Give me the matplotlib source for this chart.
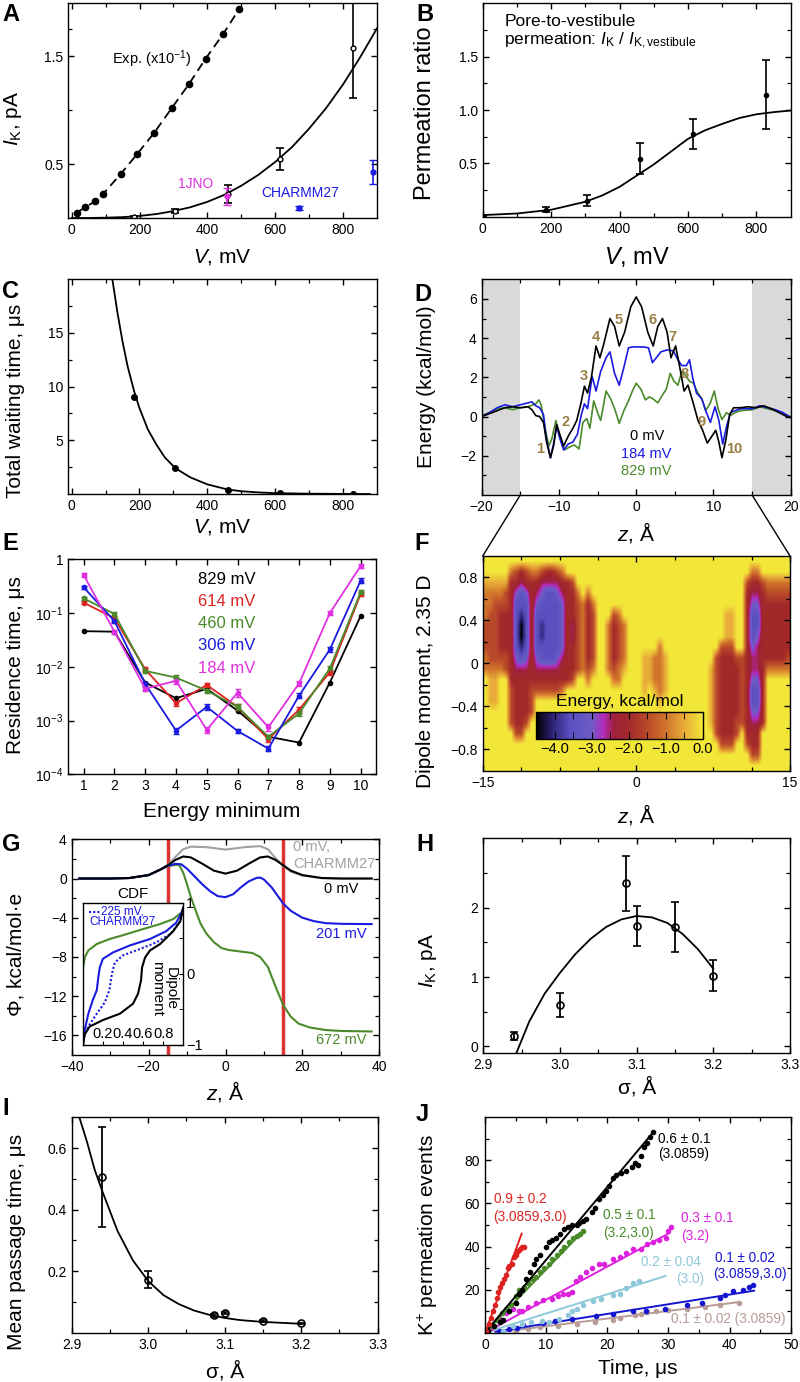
import numpy as np
import matplotlib
matplotlib.use('Agg')
import matplotlib.pyplot as plt
from matplotlib.colors import LinearSegmentedColormap
from matplotlib.patches import ConnectionPatch
from matplotlib.ticker import NullLocator

plt.rcParams['font.family'] = ['Liberation Sans', 'DejaVu Sans']
plt.rcParams['mathtext.fontset'] = 'custom'
plt.rcParams['mathtext.rm'] = 'Liberation Sans'
plt.rcParams['mathtext.it'] = 'Liberation Sans:italic'
plt.rcParams['mathtext.bf'] = 'Liberation Sans:bold'
plt.rcParams['axes.linewidth'] = 1.0

RED = '#dd2222'
GREEN = '#4a8a2a'
BLUE = '#1a1ae0'
MAGENTA = '#e030e0'
BROWN = '#9a7f45'
M = '\u2212'

# ---------------- data ----------------
# A: current vs voltage
A_exp_v = [15, 40, 69, 93, 145, 192, 243, 295, 345, 395, 447, 494]
A_exp_i = [0.05, 0.10, 0.155, 0.225, 0.41, 0.59, 0.79, 1.02, 1.24, 1.48, 1.71, 1.94]
A_sim_v = [184, 306, 460, 614, 829]
A_sim_i = [0.01, 0.065, 0.22, 0.55, 1.58]
A_sim_err = [0.005, 0.02, 0.085, 0.10, 0.47]
A_fit_v = [0, 50, 100, 150, 200, 250, 300, 350, 400, 450, 500, 550, 600, 650, 700, 750, 800, 850, 900]
A_fit_i = [0, 0.0, 0.003, 0.008, 0.019, 0.037, 0.064, 0.10, 0.15, 0.215, 0.30, 0.40, 0.52, 0.66, 0.83, 1.02, 1.24, 1.49, 1.76]
A_1jno_v = [458]
A_1jno_i = [0.20]
A_1jno_err = [0.075]
A_charmm_v = [670, 888]
A_charmm_i = [0.095, 0.43]
A_charmm_err = [0.02, 0.11]

# B: permeation ratio
B_v = [0, 184, 306, 460, 614, 829]
B_ratio = [0.01, 0.065, 0.15, 0.545, 0.775, 1.145]
B_err = [0.0, 0.025, 0.05, 0.145, 0.145, 0.325]
B_fit_v = [0, 100, 200, 300, 350, 400, 450, 500, 550, 600, 650, 700, 750, 800, 850, 900]
B_fit_r = [0.015, 0.03, 0.065, 0.14, 0.20, 0.28, 0.385, 0.49, 0.61, 0.73, 0.81, 0.87, 0.925, 0.96, 0.98, 0.995]

# C: total waiting time
C_v = [184, 306, 460, 614, 829]
C_t = [9.0, 2.45, 0.4, 0.12, 0.02]
C_fit_v = [120, 135, 150, 165, 184, 200, 225, 250, 275, 306, 350, 400, 460, 500, 550, 600, 700, 800, 880]
C_fit_t = [20, 16.9, 14.2, 11.9, 9.6, 8.0, 6.0, 4.6, 3.4, 2.4, 1.55, 0.9, 0.42, 0.26, 0.15, 0.08, 0.03, 0.01, 0.0]

# D: energy profiles
D_z0 = [-20, -19, -18, -17, -16, -15, -14, -13.5, -13, -12.5, -12, -11.6, -11.1, -10.7, -10.3, -9.9, -9.4,
        -8.8, -8.2, -7.7, -7.2, -6.7, -6.3, -5.8, -5.2, -4.7, -4.2, -3.4, -2.8, -2.2, -1.5, -0.7, 0, 0.7,
        1.5, 2.2, 2.8, 3.4, 4.0, 4.5, 5.1, 5.6, 6.2, 6.7, 7.3, 8.0, 8.6, 9.2, 9.8, 10.3, 10.7, 11.1, 11.6,
        12.1, 12.6, 13.5, 14.5, 15.5, 16.5, 17.5, 18.5, 19.5, 20]
D_e0 = [0.0, 0.15, 0.3, 0.45, 0.5, 0.45, 0.5, 0.35, 0.05, 0.0, -0.3, -1.3, -2.1, -1.5, -0.4, -0.9, -1.5,
        -1.0, -0.6, -0.2, 0.6, 1.55, 1.2, 2.0, 3.6, 3.0, 3.7, 5.0, 4.6, 3.6, 4.3, 5.6, 6.1, 5.6,
        4.3, 3.6, 4.6, 5.0, 4.3, 3.0, 3.6, 2.6, 1.3, 1.6, 0.8, -0.2, -0.7, -1.35, -1.0, -0.7, -1.3, -2.1, -1.2,
        0.1, 0.45, 0.45, 0.5, 0.45, 0.55, 0.4, 0.2, 0.0, -0.05]
D_z184 = [-20, -19, -18, -17, -16, -15, -14, -13.5, -13, -12.5, -12, -11.6, -11.1, -10.7, -10.3, -9.9, -9.4,
          -8.8, -8.2, -7.6, -7.1, -6.7, -6.3, -5.7, -5.2, -4.6, -3.9, -3.4, -2.8, -2.2, -1.6, -1.0, -0.5, 0,
          1.0, 1.6, 2.1, 2.6, 3.2, 4.0, 4.8, 5.4, 5.9, 6.5, 6.9, 7.3, 7.8, 8.5, 9.0, 9.6, 10.2, 10.7, 11.2,
          11.7, 12.2, 12.8, 13.5, 15, 16, 17, 18, 19, 20]
D_e184 = [0.0, 0.2, 0.45, 0.6, 0.5, 0.6, 0.7, 0.75, 0.55, 0.45, 0.1, -1.2, -2.1, -1.4, -0.5, -1.1, -1.7,
          -1.4, -1.3, -0.9, 0.1, 0.65, 0.4, 2.05, 1.3, 2.3, 3.0, 3.3, 2.2, 1.6, 2.5, 3.5, 3.55, 3.55,
          3.55, 3.5, 2.75, 3.0, 3.3, 3.4, 3.35, 2.9, 2.6, 2.6, 2.9, 2.0, 1.2, 0.9, 0.3, -0.3, 0.5, -0.2, -1.4,
          -0.5, 0.2, 0.3, 0.4, 0.4, 0.55, 0.45, 0.35, 0.2, -0.05]
D_z829 = [-20, -19, -18, -17, -16, -15, -14, -13, -12.6, -12.3, -11.8, -11.3, -10.9, -10.4, -9.9, -9.3, -8.6,
          -8.0, -7.4, -6.9, -6.4, -6.0, -5.5, -5.0, -4.6, -3.9, -3.3, -2.7, -2.2, -1.6, -1.0, -0.5, 0, 0.6,
          1.2, 1.7, 2.2, 2.8, 3.4, 3.9, 4.4, 4.9, 5.4, 5.9, 6.4, 6.9, 7.4, 8.0, 8.5, 9.0, 9.6, 10.1, 10.6,
          11.1, 11.7, 12.2, 12.8, 13.5, 15, 16, 17, 18, 19, 20]
D_e829 = [0.05, 0.2, 0.4, 0.45, 0.35, 0.45, 0.5, 0.65, 0.85, 0.6, -0.6, -1.5, -1.1, -0.2, -1.0, -1.7, -1.55,
          -1.45, -1.65, -0.3, -0.1, -0.6, 0.8, 0.2, -0.2, 1.3, 0.9, 0.3, -0.35, 0.3, 0.8, 1.3, 1.7, 1.4,
          0.85, 1.0, 0.9, 0.7, 1.1, 1.4, 2.2, 1.8, 1.6, 2.3, 2.1, 1.8, 1.7, 1.2, 0.9, 0.3, 0.7, 1.3, 0.4,
          -0.15, 0.2, 0.05, 0.2, 0.3, 0.35, 0.5, 0.4, 0.3, 0.15, 0.0]
D_min_labels = ['1', '2', '3', '4', '5', '6', '7', '8', '9', '10']
D_min_z = [-12.4, -9.1, -6.8, -5.2, -2.3, 2.1, 4.75, 6.3, 8.45, 12.7]
D_min_e = [-1.64, -0.3, 2.05, 4.06, 4.9, 4.9, 4.06, 2.18, -0.27, -1.64]

# E: residence times
E_min = [1, 2, 3, 4, 5, 6, 7, 8, 9, 10]
E_829 = [0.046, 0.045, 0.0051, 0.0026, 0.0039, 0.00153, 0.0005, 0.00039, 0.0051, 0.088]
E_614 = [0.156, 0.080, 0.009, 0.0021, 0.0046, 0.0018, 0.00045, 0.0016, 0.0079, 0.226]
E_460 = [0.188, 0.096, 0.0084, 0.0063, 0.0036, 0.0018, 0.0005, 0.00136, 0.0093, 0.243]
E_306 = [0.30, 0.071, 0.0048, 0.00065, 0.0018, 0.00064, 0.0003, 0.0029, 0.021, 0.40]
E_184 = [0.51, 0.045, 0.0039, 0.0055, 0.00067, 0.0033, 0.00075, 0.0049, 0.10, 0.75]
E_614_err = [0.01, 0.008, 0.0008, 0.0002, 0.0004, 0.0002, 0.00005, 0.0002, 0.0008, 0.02]
E_460_err = [0.012, 0.008, 0.0007, 0.0006, 0.0003, 0.0002, 0.00005, 0.00015, 0.001, 0.02]
E_306_err = [0.02, 0.007, 0.0004, 0.00008, 0.0002, 0.00006, 0.00003, 0.0003, 0.002, 0.04]
E_184_err = [0.04, 0.004, 0.0003, 0.0008, 0.00008, 0.0006, 0.0001, 0.0005, 0.008, 0.06]

# F: free energy map, z (0.5 A columns, -15..15) x dipole (0.1 rows, 1 .. -1)
# digit k = energy of -0.5*k kcal/mol
F_rows = [
    "0000000000" "0000000000" "0000000000" "0000000000" "0000000000" "0000000000",
    "0000023432" "2344320000" "0000000000" "0000000000" "0000000000" "0022000000",
    "1111144544" "4555544300" "0000000000" "0000000000" "0000000000" "0344322222",
    "2222346764" "5677654420" "2000000000" "0000000000" "0000000000" "0455433333",
    "2233347774" "6777764432" "4200000000" "0000000000" "0000000000" "0466444444",
    "2334447874" "7777764432" "4300032000" "0000000000" "0000000110" "0477444444",
    "3334447974" "7877764532" "4300243200" "0000000000" "0000000110" "0477444444",
    "3334447974" "7877764532" "4300243200" "0000000000" "0000000110" "0476444444",
    "3334447874" "7777764432" "4300243200" "0000200000" "0000003330" "0465444444",
    "2333346764" "6777654432" "4300243200" "0112210000" "0000034443" "3455444443",
    "2222345554" "5555544432" "3200232100" "0112210000" "0000134444" "3455422222",
    "0110044444" "4444444300" "2000022000" "0112210000" "0000134444" "3466400000",
    "0110034443" "3333320000" "0000000000" "0101210000" "0000134444" "3477400000",
    "0110034443" "0000000000" "0000000000" "0000100000" "0000134444" "3477400000",
    "0000034443" "0000000000" "0000000000" "0000000000" "0000134444" "3466400000",
    "0000034430" "0000000000" "0000000000" "0000000000" "0000134443" "3455400000",
    "0000003300" "0000000000" "0000000000" "0000000000" "0000034443" "0444000000",
    "0000000000" "0000000000" "0000000000" "0000000000" "0000003330" "0344000000",
    "0000000000" "0000000000" "0000000000" "0000000000" "0000000000" "0033000000",
    "0000000000" "0000000000" "0000000000" "0000000000" "0000000000" "0000000000",
]
F_levels = [-4.5, -4.1, -3.6, -3.0, -2.7, -2.4, -2.0, -1.5, -1.0, -0.5, 0.0]
F_colors = ['#000000', '#2b2070', '#5a4fc0', '#6c5cc4', '#b02cc0', '#a0203c',
            '#a3282a', '#b8482a', '#d0742c', '#e8aa38', '#f2e638']

# G: potential profiles
G_z_gray = [-38, -30, -25, -20, -17, -15, -13, -11, -9, -5, 0, 5, 9, 11, 13, 15, 17, 20, 25, 30, 38]
G_phi_gray = [0, 0, 0.05, 0.35, 0.9, 1.4, 2.2, 3.0, 3.25, 3.2, 2.95, 3.2, 3.3, 3.0, 2.1, 1.3, 0.7, 0.3, 0.05, 0, 0]
G_z_0 = [-38, -30, -25, -20, -17, -15, -13, -11, -9, -6, -3, 0, 3, 6, 9, 11, 13, 15, 17, 20, 25, 30, 38]
G_phi_0 = [0, 0, 0.05, 0.35, 0.9, 1.35, 1.9, 2.25, 2.15, 1.5, 0.8, 0.5, 0.8, 1.5, 2.15, 2.25, 1.9, 1.35, 0.8, 0.35, 0.05, 0, 0]
G_z_201 = [-38, -30, -25, -20, -17, -15, -13, -11.5, -10, -8, -6, -4, -2, 0, 2, 4, 6, 8, 9, 10, 12, 14, 15, 17, 20, 23, 26, 30, 38]
G_phi_201 = [0, 0, 0.05, 0.35, 0.9, 1.3, 1.5, 1.45, 1.0, 0.2, -0.6, -1.3, -1.8, -1.9, -1.6, -0.9, -0.3, 0.05, 0.1,
             -0.1, -0.9, -2.0, -2.55, -3.3, -4.0, -4.35, -4.55, -4.62, -4.65]
G_z_672 = [-38, -30, -25, -20, -17, -15, -13, -12, -11, -10, -9, -8, -6.5, -5, -3, -1, 1, 3, 5, 7, 9, 11, 13, 15, 17, 19, 22, 26, 30, 38]
G_phi_672 = [0, 0, 0.05, 0.35, 0.9, 1.25, 1.4, 1.35, 0.6, -0.6, -1.9, -3.0, -4.6, -5.6, -6.5, -7.1, -7.3, -7.4, -7.5,
             -7.6, -8.0, -9.0, -11.0, -12.9, -14.1, -14.8, -15.2, -15.45, -15.55, -15.6]
# G inset: CDF of dipole moment
INS_green_c = [0.003, 0.005, 0.013, 0.02, 0.056, 0.14, 0.27, 0.44, 0.60, 0.77, 0.90, 0.98, 1.0]
INS_green_d = [0.08, 0.10, 0.16, 0.23, 0.33, 0.42, 0.49, 0.56, 0.63, 0.70, 0.77, 0.86, 0.93]
INS_blue_c = [0.003, 0.01, 0.02, 0.056, 0.10, 0.14, 0.155, 0.17, 0.20, 0.30, 0.47, 0.67, 0.83, 0.93, 0.99, 1.0]
INS_blue_d = [-1.0, -0.9, -0.79, -0.56, -0.37, -0.23, -0.05, 0.09, 0.21, 0.30, 0.40, 0.49, 0.60, 0.72, 0.88, 0.93]
INS_dot_c = [0.003, 0.02, 0.056, 0.14, 0.22, 0.265, 0.29, 0.32, 0.40, 0.57, 0.73, 0.87, 0.97, 1.0]
INS_dot_d = [-1.0, -0.85, -0.74, -0.56, -0.40, -0.23, 0.0, 0.16, 0.26, 0.35, 0.44, 0.56, 0.74, 0.93]
INS_black_c = [0.003, 0.02, 0.07, 0.20, 0.37, 0.50, 0.55, 0.58, 0.59, 0.62, 0.67, 0.77, 0.90, 0.97, 1.0]
INS_black_d = [-1.0, -0.85, -0.74, -0.65, -0.56, -0.42, -0.28, -0.09, 0.09, 0.23, 0.33, 0.42, 0.60, 0.74, 0.93]

# H, I: sigma dependence
HI_sigma = [2.94, 3.0, 3.0859, 3.1, 3.15, 3.2]
H_i = [0.15, 0.6, 2.35, 1.73, 1.72, 1.02]
H_err = [0.06, 0.17, 0.4, 0.29, 0.36, 0.22]
H_fit_s = [2.943, 2.96, 2.98, 3.0, 3.02, 3.04, 3.06, 3.08, 3.1, 3.12, 3.14, 3.16, 3.18, 3.2]
H_fit_i = [-0.1, 0.36, 0.76, 1.06, 1.33, 1.55, 1.72, 1.83, 1.88, 1.86, 1.78, 1.62, 1.40, 1.12]
I_t = [0.505, 0.172, 0.056, 0.064, 0.037, 0.03]
I_err = [0.162, 0.028, 0.004, 0.004, 0.003, 0.003]
I_fit_s = [2.91, 2.92, 2.93, 2.94, 2.96, 2.98, 3.0, 3.02, 3.04, 3.06, 3.08, 3.1, 3.12, 3.15, 3.2]
I_fit_t = [0.70, 0.62, 0.53, 0.46, 0.33, 0.235, 0.168, 0.122, 0.093, 0.072, 0.058, 0.048, 0.041, 0.035, 0.029]

# J: cumulative permeation events
J_red_t = [0.2, 0.6, 1.0, 1.3, 1.6, 1.9, 2.2, 2.5, 2.8, 3.1, 3.4, 3.7, 4.0, 4.4, 4.8, 5.1, 5.4, 5.8, 6.1, 6.4]
J_red_n = [1, 4, 7, 10, 13, 16, 19, 21, 23, 25, 27, 30, 31, 32, 35, 36, 38, 39, 40, 40]
J_black_t = [0.5, 1.5, 2.5, 3.0, 4, 5, 5.5, 6, 6.7, 7.3, 8, 8.3, 9, 9.9, 10.5, 11, 11.6, 12.2, 13, 13.5, 14.3,
             15, 15.4, 16, 16.5, 17.5, 18, 18.7, 19.3, 19.8, 20.3, 20.9, 21.5, 22.3, 23, 24, 24.5, 25, 25.5,
             26, 26.5, 27, 27.4]
J_black_n = [1, 3, 5, 6, 10, 14, 18, 20, 25, 28, 32, 34, 36, 40, 42, 43, 44, 46, 48, 49, 50,
             50, 51, 52, 53, 56, 58, 62, 64, 66, 68, 72, 73, 74, 75, 77, 79, 78, 82,
             86, 88, 91, 93]
J_green_t = [0.5, 1.2, 2, 2.8, 3.5, 4.2, 5, 5.6, 6.3, 7, 7.7, 8.4, 9, 9.7, 10.4, 11, 11.7, 12.4, 13, 13.7,
             14.4, 15, 15.5, 16]
J_green_n = [1, 3, 6, 9, 11, 13, 17, 20, 21, 23, 25, 26, 28, 30, 32, 34, 36, 38, 40, 42, 44, 45, 46, 47]
J_mag_t = [1, 2.3, 3.5, 4.5, 5.5, 6.1, 7, 8.3, 9.5, 11, 12, 12.7, 13.5, 14.3, 14.9, 15.5, 16.5, 17.5, 18.7,
           19.5, 20.9, 22, 23, 24.2, 25.5, 26.5, 27.4, 28.5, 29.6, 30, 30.4]
J_mag_n = [2, 7, 9, 11, 10, 10, 12, 14, 15, 15.5, 17, 18, 18, 19, 24, 26, 28, 30, 32,
           32, 34, 35, 37, 39, 39, 41, 42, 43, 44, 47, 49]
J_lb_t = [3, 4.5, 6, 7.5, 9.4, 10.5, 12.1, 13.5, 14.3, 15, 16, 17.6, 19, 20.9, 22, 23, 24.2, 25.2]
J_lb_n = [1, 3, 4, 5, 5.4, 5, 6.2, 8, 10, 11, 13, 14.6, 15.5, 17.4, 18, 20.8, 23, 24]
J_blue_t = [2.3, 4.0, 5.3, 6.2, 9.5, 11.5, 14.3, 18.2, 21.0, 24.2, 26.4, 29.5, 33.0, 35.5, 38.4, 39.2, 40.6,
            42.2, 43.2, 43.9]
J_blue_n = [1, 1.5, 2.3, 3.5, 4.5, 5.5, 6.2, 7.7, 8.5, 10, 10, 11, 13, 14, 16.3, 17.5, 19.4, 20, 21, 22]
J_brown_t = [5, 7, 9, 12, 15, 18, 21, 22, 24.5, 25.5, 26.5, 28, 30, 33, 36, 38.5, 41.5]
J_brown_n = [0.5, 1.5, 2.5, 3, 4, 5, 6, 7, 8, 8.5, 9.5, 10, 10.5, 11, 12, 13, 14]
J_fit_red = ([0, 6.0], [0, 46])
J_fit_black = ([0, 27.5], [0, 93])
J_fit_green = ([0, 16.0], [0, 47])
J_fit_mag = ([0, 30.0], [0, 46])
J_fit_lb = ([0, 29.5], [0, 26.3])
J_fit_blue = ([1.7, 44.0], [0.5, 19.5])
J_fit_brown = ([3.0, 41.5], [0.5, 14.2])

# ---------------- figure ----------------
fig = plt.figure(figsize=(8, 13.82), dpi=100)


def px_axes(l, t, r, b):
    return fig.add_axes([l / 800, 1 - b / 1382, (r - l) / 800, (b - t) / 1382])


def set_ticks(ax, xmaj, xmin, ymaj, ymin, xlab=None, ylab=None):
    ax.set_xticks(xmaj)
    if xlab is not None:
        ax.set_xticklabels(xlab)
    ax.set_xticks(xmin, minor=True)
    ax.set_yticks(ymaj)
    if ylab is not None:
        ax.set_yticklabels(ylab)
    ax.set_yticks(ymin, minor=True)
    ax.tick_params(which='both', direction='in', top=True, right=True, labelsize=10)
    ax.tick_params(which='major', length=4.5, width=1)
    ax.tick_params(which='minor', length=3, width=0.9)


def set_labels(ax, xl, yl, xy, yx, yy=0.5, size=15):
    ax.set_xlabel(xl, fontsize=size)
    ax.set_ylabel(yl, fontsize=size)
    ax.xaxis.set_label_coords(0.5, xy)
    ax.yaxis.set_label_coords(yx, yy)
    ax.xaxis.label.set_va('center')
    ax.yaxis.label.set_va('center')


def letter(x, y, s):
    fig.text(x / 800, 1 - y / 1382, s, fontsize=17, weight='bold', va='top', ha='left')


# A
axA = px_axes(68.3, 2.5, 377, 218)
axA.plot(A_exp_v, A_exp_i, 'k--', dashes=(5, 3), lw=1.3)
axA.plot(A_exp_v, A_exp_i, 'ko', ms=4.5)
axA.plot(A_fit_v, A_fit_i, 'k-', lw=1.3)
axA.errorbar(A_sim_v, A_sim_i, yerr=A_sim_err, fmt='o', mfc='white', mec='k', color='k',
             ms=3.5, capsize=3, elinewidth=1.2, capthick=1.2)
axA.errorbar(A_1jno_v, A_1jno_i, yerr=A_1jno_err, fmt='o', color=MAGENTA, ms=3.5, capsize=3, elinewidth=1.2)
axA.errorbar(A_charmm_v, A_charmm_i, yerr=A_charmm_err, fmt='o', color=BLUE, ms=3.5, capsize=3, elinewidth=1.2)
axA.text(118, 1.47, 'Exp. (x10$^{-1}$)', fontsize=10.5, va='center')
axA.text(366, 0.314, '1JNO', color=MAGENTA, fontsize=10, ha='center', va='center')
axA.text(674, 0.236, 'CHARMM27', color=BLUE, fontsize=10, ha='center', va='center')
axA.set_xlim(-10, 900)
axA.set_ylim(0, 2.0)
set_ticks(axA, [0, 200, 400, 600, 800], [100, 300, 500, 700], [0.5, 1.5], [1.0, 1.75])
set_labels(axA, '$V$, mV', '$I_{\\rm K}$, pA', -0.18, -0.18, 0.462)

# B
axB = px_axes(482.7, 3.3, 790.7, 216.7)
axB.plot(B_fit_v, B_fit_r, 'k-', lw=1.3)
axB.errorbar(B_v, B_ratio, yerr=B_err, fmt='o', color='k', ms=3, capsize=3, elinewidth=1.2, capthick=1.2)
axB.text(63, 1.9, 'Pore-to-vestibule\npermeation: $I_{\\rm K}$ / $I_{\\rm K,vestibule}$', fontsize=12.5,
         va='top', linespacing=1.1)
axB.set_xlim(0, 900)
axB.set_ylim(0, 2.0)
set_ticks(axB, [0, 200, 400, 600, 800], [100, 300, 500, 700], [0.5, 1.0, 1.5], [0.25, 0.75, 1.25, 1.75])
set_labels(axB, '$V$, mV', 'Permeation ratio', -0.19, -0.186, 0.487, size=17)

# C
axC = px_axes(68.3, 279.3, 376.7, 494)
axC.plot(C_fit_v, C_fit_t, 'k-', lw=1.3)
axC.plot(C_v, C_t, 'ko', ms=4)
axC.set_xlim(-10, 900)
axC.set_ylim(0, 20)
set_ticks(axC, [0, 200, 400, 600, 800], [100, 300, 500, 700], [5, 10, 15], [2.5, 7.5, 12.5, 17.5])
set_labels(axC, '$V$, mV', 'Total waiting time, \u03bcs', -0.156, -0.17, 0.434)

# D
axD = px_axes(481.7, 279.3, 790.7, 495)
axD.axvspan(-20, -15, color='#d9d9d9', lw=0, zorder=0)
axD.axvspan(15, 20, color='#d9d9d9', lw=0, zorder=0)
axD.plot(D_z829, D_e829, color=GREEN, lw=1.2)
axD.plot(D_z184, D_e184, color=BLUE, lw=1.2)
axD.plot(D_z0, D_e0, color='k', lw=1.2)
for s, z, e in zip(D_min_labels, D_min_z, D_min_e):
    axD.text(z, e, s, color=BROWN, fontsize=10.5, weight='bold', ha='center', va='center')
axD.text(1.36, -0.97, '0 mV', color='k', fontsize=10.5, ha='center', va='center')
axD.text(1.36, -1.9, '184 mV', color=BLUE, fontsize=10.5, ha='center', va='center')
axD.text(1.36, -2.8, '829 mV', color=GREEN, fontsize=10.5, ha='center', va='center')
axD.set_xlim(-20, 20)
axD.set_ylim(-4, 7)
set_ticks(axD, [-20, -10, 0, 10, 20], [-15, -5, 5, 15], [-2, 0, 2, 4, 6], [-3, -1, 1, 3, 5],
          xlab=[M + '20', M + '10', '0', '10', '20'], ylab=[M + '2', '0', '2', '4', '6'])
set_labels(axD, '$z$, \u00c5', 'Energy (kcal/mol)', -0.176, -0.18, 0.5)

# E
axE = px_axes(68.3, 559.3, 376, 774.3)
axE.plot(E_min, E_829, '-o', color='k', ms=3, lw=1.3)
axE.errorbar(E_min, E_614, yerr=E_614_err, fmt='-o', color=RED, ms=3, lw=1.3, capsize=2.5)
axE.errorbar(E_min, E_460, yerr=E_460_err, fmt='-o', color=GREEN, ms=3, lw=1.3, capsize=2.5)
axE.errorbar(E_min, E_306, yerr=E_306_err, fmt='-o', color=BLUE, ms=3, lw=1.3, capsize=2.5)
axE.errorbar(E_min, E_184, yerr=E_184_err, fmt='-o', color=MAGENTA, ms=3, lw=1.3, capsize=2.5)
for s, c, y in zip(['829 mV', '614 mV', '460 mV', '306 mV', '184 mV'], ['k', RED, GREEN, BLUE, MAGENTA],
                   [0.42, 0.163, 0.064, 0.0245, 0.0094]):
    axE.text(5.64, y, s, color=c, fontsize=12, ha='center', va='center')
axE.set_yscale('log')
axE.set_xlim(0.5, 10.5)
axE.set_ylim(1e-4, 1)
set_ticks(axE, E_min, [], [1e-4, 1e-3, 1e-2, 1e-1, 1], [],
          ylab=['10$^{-4}$', '10$^{-3}$', '10$^{-2}$', '10$^{-1}$', '1'])
axE.yaxis.set_minor_locator(NullLocator())
set_labels(axE, 'Energy minimum', 'Residence time, \u03bcs', -0.175, -0.17, 0.51)

# F
axF = px_axes(482.7, 556, 790, 770.7)
grid = -0.5 * np.array([[int(ch) for ch in row] for row in F_rows], dtype=float)
cmap = LinearSegmentedColormap.from_list(
    'fe', [((v - F_levels[0]) / (F_levels[-1] - F_levels[0]), c) for v, c in zip(F_levels, F_colors)])
im = axF.imshow(grid, extent=(-15, 15, -1, 1), aspect='auto', cmap=cmap, vmin=-4.5, vmax=0,
                interpolation='bilinear', origin='upper')
axF.set_xlim(-15, 15)
axF.set_ylim(-1, 1)
set_ticks(axF, [-15, 0, 15], [-11.25, -7.5, -3.75, 3.75, 7.5, 11.25], [-0.8, -0.4, 0, 0.4, 0.8],
          [-0.6, -0.2, 0.2, 0.6], xlab=[M + '15', '0', '15'],
          ylab=[M + '0.8', M + '0.4', '0', '0.4', '0.8'])
set_labels(axF, '$z$, \u00c5', 'Dipole moment, 2.35 D', -0.206, -0.185, 0.415)
cax = px_axes(536.3, 712.3, 702.7, 739.3)
cb = fig.colorbar(im, cax=cax, orientation='horizontal')
cb.set_ticks([-4, -3, -2, -1, 0])
cb.set_ticklabels([M + '4.0', M + '3.0', M + '2.0', M + '1.0', '0.0'])
cb.ax.set_xticks([-4.5, -3.5, -2.5, -1.5, -0.5], minor=True)
cb.ax.tick_params(which='both', direction='in', top=True, bottom=True, labelsize=10.5, pad=2, color='k')
cb.ax.tick_params(which='major', length=5)
cb.ax.tick_params(which='minor', length=5)
cb.outline.set_linewidth(1)
cax.text(0.5, 1.4, 'Energy, kcal/mol', transform=cax.transAxes, ha='center', va='center', fontsize=12.5)

for xa, xb in [(-15, 0), (15, 1)]:
    con = ConnectionPatch(xyA=(xa, -4), coordsA='data', axesA=axD, xyB=(xb, 1), coordsB='axes fraction',
                          axesB=axF, color='k', lw=1.0)
    fig.add_artist(con)

# G
axG = px_axes(71.7, 839.3, 379.3, 1055)
axG.axvline(-15, color='#dd3333', lw=2.5, zorder=1)
axG.axvline(15, color='#dd3333', lw=2.5, zorder=1)
axG.plot(G_z_gray, G_phi_gray, color='#a0a0a0', lw=1.5)
axG.plot(G_z_672, G_phi_672, color=GREEN, lw=1.5)
axG.plot(G_z_201, G_phi_201, color=BLUE, lw=1.5)
axG.plot(G_z_0, G_phi_0, color='k', lw=1.5)
axG.text(17.6, 3.24, '0 mV,', color='#a0a0a0', fontsize=10.5, va='center')
axG.text(17.6, 1.53, 'CHARMM27', color='#a0a0a0', fontsize=10.5, va='center')
axG.text(30.2, -1.02, '0 mV', color='k', fontsize=10.5, ha='center', va='center')
axG.text(30.2, -5.62, '201 mV', color=BLUE, fontsize=10.5, ha='center', va='center')
axG.text(30.2, -16.5, '672 mV', color=GREEN, fontsize=10.5, ha='center', va='center')
axG.set_xlim(-40, 40)
axG.set_ylim(-18, 4)
set_ticks(axG, [-40, -20, 0, 20, 40], [-30, -10, 10, 30], [-16, -12, -8, -4, 0, 4], [-14, -10, -6, -2, 2],
          xlab=[M + '40', M + '20', '0', '20', '40'],
          ylab=[M + '16', M + '12', M + '8', M + '4', '0', '4'])
set_labels(axG, '$z$, \u00c5', '\u03a6, kcal/mol\u00b7e', -0.167, -0.18, 0.468)

axI2 = px_axes(82.7, 902.7, 183.3, 1045)
axI2.set_facecolor('white')
axI2.plot(INS_green_c, INS_green_d, color=GREEN, lw=1.5)
axI2.plot(INS_dot_c, INS_dot_d, color=BLUE, lw=1.5, ls=(0, (1, 1)))
axI2.plot(INS_blue_c, INS_blue_d, color=BLUE, lw=1.5)
axI2.plot(INS_black_c, INS_black_d, color='k', lw=1.5)
axI2.set_xlim(0, 1)
axI2.set_ylim(-1, 1)
axI2.yaxis.tick_right()
axI2.set_xticks([0.2, 0.4, 0.6, 0.8])
axI2.set_xticklabels(['0.2', '0.4', '0.6', '0.8'])
axI2.set_yticks([-1, 0, 1])
axI2.set_yticklabels([M + '1', '0', '1'])
axI2.set_yticks([-0.5, 0.5], minor=True)
axI2.tick_params(which='both', direction='in', labelsize=10.5)
axI2.tick_params(axis='x', pad=-13, length=3)
axI2.tick_params(axis='y', which='both', length=3, pad=2)
axI2.plot([0.06, 0.17], [0.87, 0.87], color=BLUE, lw=1.5, ls=(0, (1, 1)))
axI2.text(0.18, 0.87, '225 mV,', color=BLUE, fontsize=8.5, va='center')
axI2.text(0.07, 0.73, 'CHARMM27', color=BLUE, fontsize=8.5, va='center')
axI2.text(0.81, -0.21, 'Dipole\nmoment', rotation=-90, fontsize=11, ha='center', va='center',
          linespacing=1.0)
axI2.text(0.5, 1.01, 'CDF', transform=axI2.transAxes, fontsize=11, ha='center', va='bottom')

# H
axH = px_axes(483.3, 838.3, 790, 1053.3)
axH.plot(H_fit_s, H_fit_i, 'k-', lw=1.3)
axH.errorbar(HI_sigma, H_i, yerr=H_err, fmt='o', mfc='none', mec='k', color='k', ms=5, mew=1.2,
             capsize=3, elinewidth=1.3, capthick=1.3)
axH.set_xlim(2.9, 3.3)
axH.set_ylim(-0.1, 3.0)
set_ticks(axH, [2.9, 3.0, 3.1, 3.2, 3.3], [2.95, 3.05, 3.15, 3.25], [0, 1, 2], [0.5, 1.5, 2.5],
          xlab=['2.9', '3.0', '3.1', '3.2', '3.3'], ylab=['0', '1', '2'])
set_labels(axH, '\u03c3, \u00c5', '$I_{\\rm K}$, pA', -0.157, -0.18, 0.434)

# I
axI = px_axes(71.7, 1117.3, 377.7, 1332.7)
axI.plot(I_fit_s, I_fit_t, 'k-', lw=1.3)
axI.errorbar(HI_sigma, I_t, yerr=I_err, fmt='o', mfc='none', mec='k', color='k', ms=5, mew=1.2,
             capsize=3, elinewidth=1.3, capthick=1.3)
axI.set_xlim(2.9, 3.3)
axI.set_ylim(0, 0.7)
set_ticks(axI, [2.9, 3.0, 3.1, 3.2, 3.3], [2.95, 3.05, 3.15, 3.25], [0.2, 0.4, 0.6], [0.1, 0.3, 0.5],
          xlab=['2.9', '3.0', '3.1', '3.2', '3.3'], ylab=['0.2', '0.4', '0.6'])
set_labels(axI, '\u03c3, \u00c5', 'Mean passage time, \u03bcs', -0.178, -0.18, 0.42)

# J
axJ = px_axes(485, 1117.3, 790.7, 1332.7)
J_series = [(J_brown_t, J_brown_n, J_fit_brown, '#b89c98'),
            (J_blue_t, J_blue_n, J_fit_blue, '#1515d0'),
            (J_lb_t, J_lb_n, J_fit_lb, '#8ec8d8'),
            (J_mag_t, J_mag_n, J_fit_mag, '#dd22dd'),
            (J_green_t, J_green_n, J_fit_green, GREEN),
            (J_black_t, J_black_n, J_fit_black, 'k'),
            (J_red_t, J_red_n, J_fit_red, RED)]
for t, n, fit, c in J_series:
    axJ.plot(t, n, 'o', color=c, ms=3)
    axJ.plot(fit[0], fit[1], '-', color=c, lw=1.4)
J_texts = [(28.3, 90, '0.6 \u00b1 0.1', 'k'), (28.3, 82.8, '(3.0859)', 'k'),
           (1.4, 62.2, '0.9 \u00b1 0.2', RED), (1.4, 53.9, '(3.0859,3.0)', RED),
           (19.3, 54.5, '0.5 \u00b1 0.1', GREEN), (19.3, 46.4, '(3.2,3.0)', GREEN),
           (32.1, 53.4, '0.3 \u00b1 0.1', '#dd22dd'), (32.1, 44.9, '(3.2)', '#dd22dd'),
           (25.5, 32.8, '0.2 \u00b1 0.04', '#8ec8d8'), (31.3, 24.8, '(3.0)', '#8ec8d8'),
           (37.6, 34.8, '0.1 \u00b1 0.02', '#1515d0'), (37.3, 27.1, '(3.0859,3.0)', '#1515d0'),
           (30.5, 6.2, '0.1 \u00b1 0.02 (3.0859)', '#b89c98')]
for x, y, s, c in J_texts:
    axJ.text(x, y, s, color=c, fontsize=9.8, va='center', ha='left')
axJ.set_xlim(0, 50)
axJ.set_ylim(0, 100)
set_ticks(axJ, [0, 10, 20, 30, 40, 50], [5, 15, 25, 35, 45], [20, 40, 60, 80], [10, 30, 50, 70, 90])
set_labels(axJ, 'Time, \u03bcs', 'K$^{+}$ permeation events', -0.164, -0.188, 0.455)

for x, y, s in [(2, 3, 'A'), (416, 3, 'B'), (2, 280, 'C'), (414, 283, 'D'), (2, 532, 'E'),
                (414, 532, 'F'), (2, 833, 'G'), (416, 833, 'H'), (2, 1097, 'I'), (416, 1103, 'J')]:
    letter(x, y, s)

fig.savefig('out.png', dpi=100)
